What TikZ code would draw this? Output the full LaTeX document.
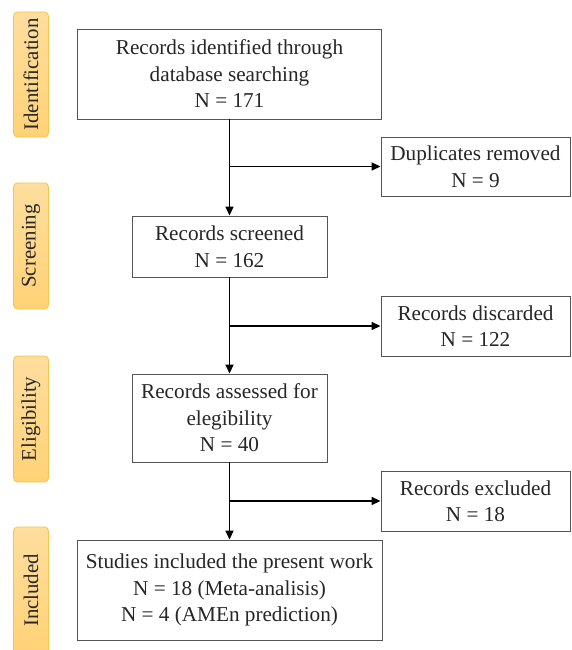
\documentclass[tikz,border=0pt]{standalone}
\usepackage{fontspec}
\setmainfont{Liberation Serif}
\usepackage{tikz}
\usetikzlibrary{arrows.meta}
\definecolor{tabfill}{RGB}{255,210,118}
\definecolor{tabtop}{RGB}{254,222,158}
\definecolor{tabline}{RGB}{247,196,72}
\definecolor{boxline}{RGB}{85,85,85}

\tikzset{
    stagebox/.style={draw=boxline, line width=0.9pt, fill=white, align=center, text=black!85,
        font=\fontsize{21.2}{26.5}\selectfont, inner sep=0pt},
    phasetab/.style={draw=tabline, line width=0.8pt, rounded corners=4pt, top color=tabtop,
        bottom color=tabfill, minimum width=35pt, text=black!85, inner sep=0pt,
        font=\fontsize{20.8}{22}\selectfont},
    flow/.style={line width=1.6pt, -{Triangle[length=9pt, width=8pt]}}
}

\begin{document}
\begin{tikzpicture}[x=1pt, y=-1pt]
    \useasboundingbox (0,0) rectangle (571,650);
    % phase tabs on the left
    \node[phasetab, minimum height=125pt] (ident) at (31,74.5) {\rotatebox{90}{Identification}};
    \node[phasetab, minimum height=126pt] (screen) at (31,246) {\rotatebox{90}{Screening}};
    \node[phasetab, minimum height=126pt] (elig) at (31,419) {\rotatebox{90}{Eligibility}};
    \node[phasetab, minimum height=127pt] (incl) at (31,590.5) {\rotatebox{90}{Included}};
    % main column
    \node[stagebox, minimum width=304pt, minimum height=90pt] (found) at (229.5,74) {Records identified through\\database searching\\N = 171};
    \node[stagebox, minimum width=195pt, minimum height=61pt] (screened) at (229.5,246.5) {Records screened\\N = 162};
    \node[stagebox, minimum width=195pt, minimum height=88pt] (assessed) at (229.5,418) {Records assessed for\\elegibility\\N = 40};
    \node[stagebox, minimum width=305pt, minimum height=100pt] (included) at (229.5,590) {Studies included the present work\\N = 18 (Meta-analisis)\\N = 4 (AMEn prediction)};
    % side boxes
    \node[stagebox, minimum width=189pt, minimum height=59pt] (dupl) at (475.5,166.5) {Duplicates removed\\N = 9};
    \node[stagebox, minimum width=189pt, minimum height=60pt] (discard) at (475.5,326) {Records discarded\\N = 122};
    \node[stagebox, minimum width=189pt, minimum height=60pt] (exclud) at (475.5,501) {Records excluded\\N = 18};
    % connectors
    \draw[flow] (found) -- (screened);
    \draw[flow] (screened) -- (assessed);
    \draw[flow] (assessed) -- (included);
    \draw[flow] (found.south |- dupl.west) -- (dupl.west);
    \draw[flow] (screened.south |- discard.west) -- (discard.west);
    \draw[flow] (assessed.south |- exclud.west) -- (exclud.west);
\end{tikzpicture}
\end{document}
